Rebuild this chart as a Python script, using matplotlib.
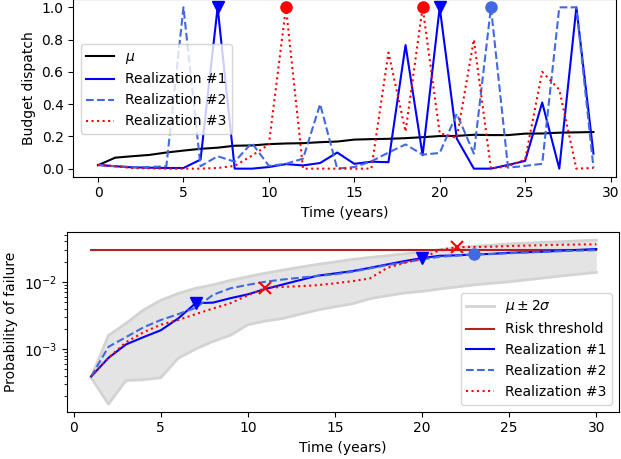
import matplotlib
matplotlib.use("Agg")
import matplotlib.pyplot as plt
import numpy as np

# ---- budget dispatch per year ----
years_dispatch = list(range(0, 30))
mu_dispatch = [0.021, 0.068, 0.077, 0.085, 0.100, 0.112, 0.123, 0.130, 0.142, 0.144,
               0.152, 0.156, 0.158, 0.164, 0.168, 0.180, 0.183, 0.185, 0.189, 0.195,
               0.202, 0.203, 0.210, 0.208, 0.208, 0.217, 0.218, 0.223, 0.225, 0.227]
disp_r1 = [0.023, 0.015, 0.008, 0.006, 0.004, 0.004, 0.056, 1.0, 0.0, 0.0,
           0.010, 0.028, 0.020, 0.035, 0.100, 0.030, 0.043, 0.040, 0.766, 0.083,
           1.0, 0.186, 0.0, 0.0, 0.023, 0.048, 0.410, 0.0, 1.0, 0.093]
disp_r2 = [0.023, 0.015, 0.010, 0.010, 0.015, 1.0, 0.015, 0.077, 0.043, 0.160,
           0.017, 0.030, 0.062, 0.400, 0.0, 0.010, 0.045, 0.100, 0.150, 0.087,
           0.097, 0.340, 0.093, 1.0, 0.006, 0.017, 0.030, 1.0, 1.0, 0.006]
disp_r3 = [0.023, 0.015, 0.004, 0.002, 0.0, 0.0, 0.0, 0.004, 0.017, 0.080,
           0.150, 1.0, 0.0, 0.0, 0.0, 0.0, 0.0, 0.720, 0.230, 1.0,
           0.220, 0.190, 0.800, 0.0, 0.015, 0.056, 0.600, 0.490, 0.0, 0.004]

# ---- probability of failure per year ----
years_pf = list(range(1, 31))
pf_upper = [3.75e-4, 1.6e-3, 2.4e-3, 3.8e-3, 5.3e-3, 6.7e-3, 8.0e-3, 9.0e-3, 1.05e-2, 1.19e-2,
            1.34e-2, 1.49e-2, 1.65e-2, 1.81e-2, 1.97e-2, 2.15e-2, 2.30e-2, 2.44e-2, 2.60e-2, 2.79e-2,
            3.00e-2, 3.20e-2, 3.35e-2, 3.50e-2, 3.65e-2, 3.75e-2, 3.85e-2, 3.95e-2, 4.05e-2, 4.15e-2]
pf_lower = [3.75e-4, 1.52e-4, 3.4e-4, 3.5e-4, 3.75e-4, 7.3e-4, 1.0e-3, 1.3e-3, 1.6e-3, 2.3e-3,
            2.6e-3, 2.85e-3, 3.3e-3, 3.8e-3, 4.25e-3, 4.7e-3, 5.6e-3, 6.2e-3, 6.8e-3, 7.2e-3,
            7.8e-3, 8.4e-3, 9.0e-3, 9.5e-3, 1.0e-2, 1.07e-2, 1.14e-2, 1.22e-2, 1.30e-2, 1.38e-2]
pf_r1 = [3.9e-4, 7.4e-4, 1.17e-3, 1.5e-3, 1.9e-3, 2.85e-3, 4.8e-3, 4.9e-3, 5.7e-3, 6.5e-3,
         7.8e-3, 9.1e-3, 1.06e-2, 1.23e-2, 1.33e-2, 1.44e-2, 1.61e-2, 1.81e-2, 2.03e-2, 2.25e-2,
         2.43e-2, 2.47e-2, 2.55e-2, 2.60e-2, 2.70e-2, 2.75e-2, 2.80e-2, 2.90e-2, 2.98e-2, 3.06e-2]
pf_r2 = [3.9e-4, 1.08e-3, 1.5e-3, 2.1e-3, 2.7e-3, 3.3e-3, 4.1e-3, 6.4e-3, 8.0e-3, 9.0e-3,
         1.0e-2, 1.08e-2, 1.15e-2, 1.22e-2, 1.29e-2, 1.41e-2, 1.58e-2, 1.77e-2, 1.94e-2, 2.15e-2,
         2.35e-2, 2.45e-2, 2.55e-2, 2.58e-2, 2.65e-2, 2.72e-2, 2.78e-2, 2.85e-2, 2.90e-2, 2.96e-2]
pf_r3 = [3.9e-4, 7.4e-4, 1.26e-3, 1.77e-3, 2.3e-3, 2.7e-3, 3.3e-3, 4.0e-3, 4.8e-3, 6.3e-3,
         8.1e-3, 8.4e-3, 8.6e-3, 8.9e-3, 9.5e-3, 1.02e-2, 1.12e-2, 1.61e-2, 1.91e-2, 2.23e-2,
         2.96e-2, 3.28e-2, 3.30e-2, 3.32e-2, 3.40e-2, 3.45e-2, 3.50e-2, 3.55e-2, 3.58e-2, 3.60e-2]
risk_threshold = 0.03

# event years
r1_events = [7, 20]
r2_events = [23]
r3_events_dispatch = [11, 19]
r3_events_pf = [11, 22]

labels = ['Realization #1', 'Realization #2', 'Realization #3']

fig = plt.figure(figsize=(6.21, 4.59), dpi=100)

# ---------- top panel ----------
ax1 = fig.add_axes([0.118, 0.615, 0.8734, 0.3866])
ax1.plot(years_dispatch, mu_dispatch, color='black', lw=1.5, label=r'$\mu$')
ax1.plot(years_dispatch, disp_r1, color='blue', lw=1.5, ls='-', label=labels[0])
ax1.plot(years_dispatch, disp_r2, color='royalblue', lw=1.5, ls='--', label=labels[1])
ax1.plot(years_dispatch, disp_r3, color='red', lw=1.5, ls=':', label=labels[2])
ax1.plot(r1_events, [disp_r1[i] for i in r1_events], 'v', color='blue', ms=8)
ax1.plot(r2_events, [disp_r2[i] for i in r2_events], 'o', color='royalblue', ms=8)
ax1.plot(r3_events_dispatch, [disp_r3[i] for i in r3_events_dispatch], 'o', color='red', ms=8)
ax1.set_xlim(-1.45, 30.3)
ax1.set_ylim(-0.05, 1.05)
ax1.set_xticks([0, 5, 10, 15, 20, 25, 30])
ax1.set_yticks([0.0, 0.2, 0.4, 0.6, 0.8, 1.0])
ax1.set_xlabel('Time (years)')
ax1.set_ylabel('Budget dispatch')
ax1.legend(loc='upper left', bbox_to_anchor=(0.0136, 0.748), borderaxespad=0)

# ---------- bottom panel ----------
ax2 = fig.add_axes([0.1074, 0.103, 0.8894, 0.392])
ax2.fill_between(years_pf, pf_lower, pf_upper, color='lightgray', alpha=0.6, lw=0)
ax2.plot(years_pf, pf_upper, color='lightgray', lw=2, label=r'$\mu \pm 2\sigma$')
ax2.plot(years_pf, pf_lower, color='lightgray', lw=2)
ax2.plot([years_pf[0], years_pf[-1]], [risk_threshold, risk_threshold],
         color='firebrick', lw=1.5, label='Risk threshold')
ax2.plot(years_pf, pf_r1, color='blue', lw=1.5, ls='-', label=labels[0])
ax2.plot(years_pf, pf_r2, color='royalblue', lw=1.5, ls='--', label=labels[1])
ax2.plot(years_pf, pf_r3, color='red', lw=1.5, ls=':', label=labels[2])
ax2.plot(r1_events, [pf_r1[i - 1] for i in r1_events], 'v', color='blue', ms=8)
ax2.plot(r2_events, [pf_r2[i - 1] for i in r2_events], 'o', color='royalblue', ms=8)
ax2.plot(r3_events_pf, [pf_r3[i - 1] for i in r3_events_pf], 'x', color='red', ms=8, mew=1.5)
ax2.set_yscale('log')
ax2.set_xlim(-0.4, 31.3)
ax2.set_ylim(1.17e-4, 0.0553)
ax2.set_xticks([0, 5, 10, 15, 20, 25, 30])
ax2.set_xlabel('Time (years)')
ax2.set_ylabel('Probability of failure')
ax2.legend(loc='lower right')

fig.savefig('out.png', dpi=100)
